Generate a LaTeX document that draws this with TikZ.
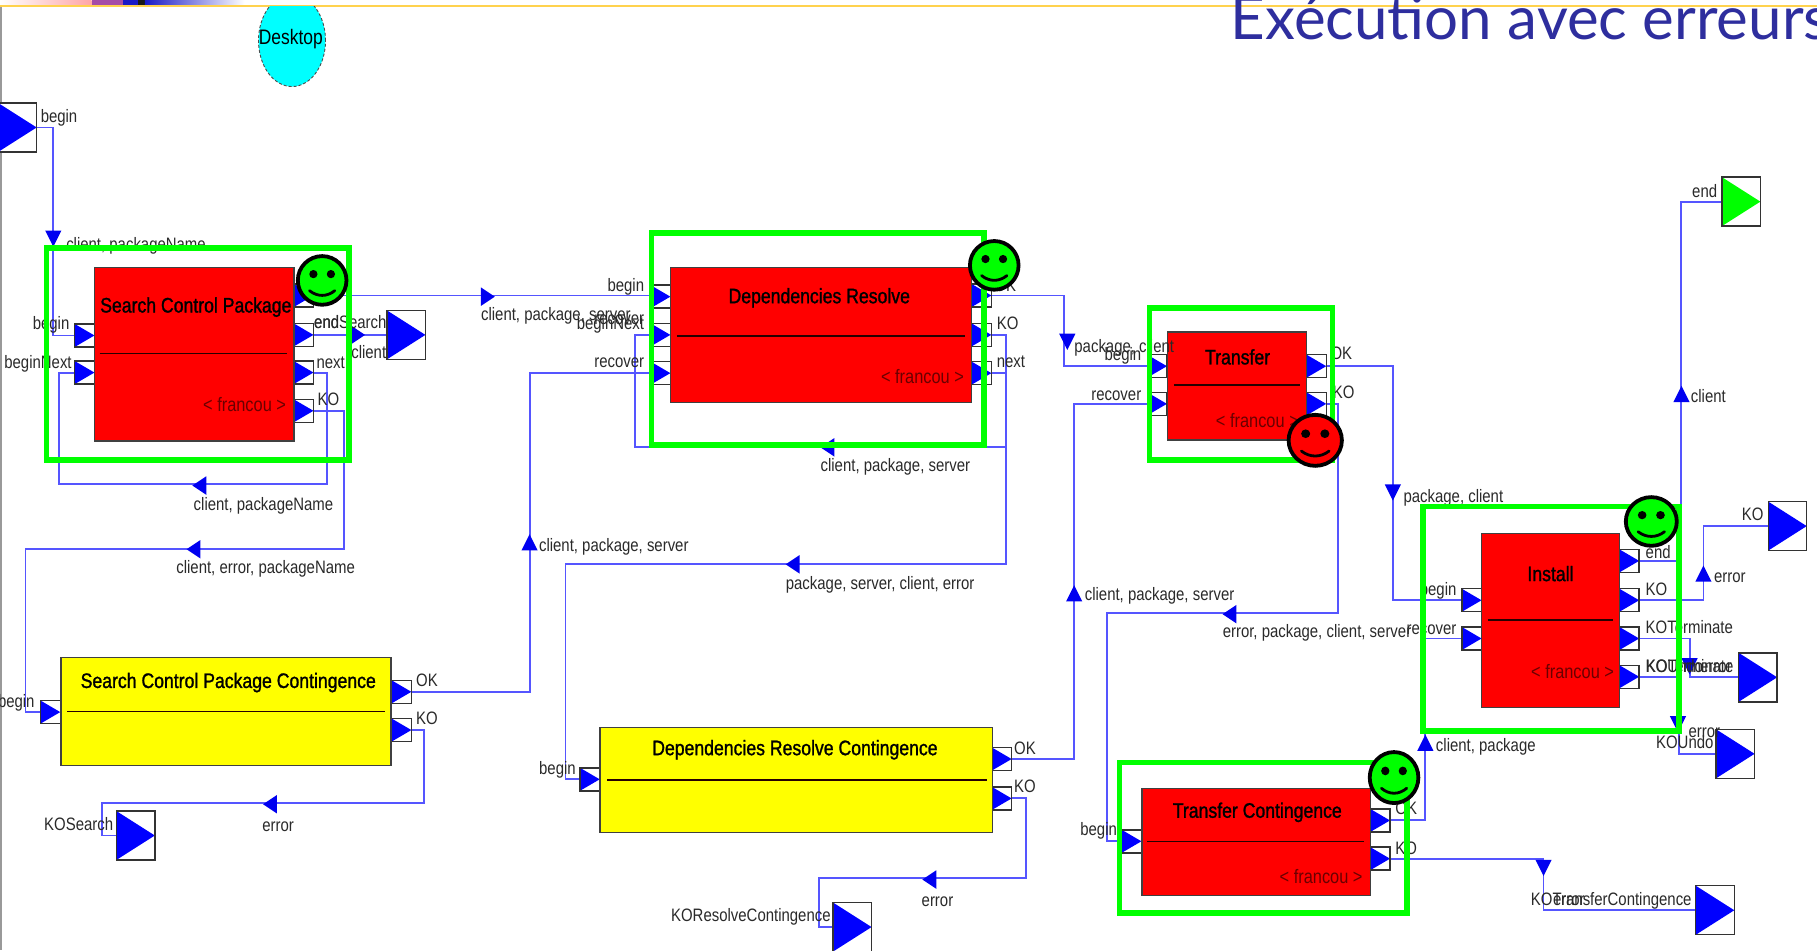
\documentclass[tikz,border=0pt]{standalone}
\usepackage{fontspec}
\setmainfont{Liberation Sans}
\newfontfamily\narrowf[FakeStretch=0.83]{Liberation Sans}
\newfontfamily\narrowo[FakeStretch=0.84]{Liberation Sans}
\newfontfamily\narrowb[FakeStretch=0.84,FakeBold=1.2]{Liberation Sans}
\newfontfamily\headf{Lato}
\usetikzlibrary{shapes.geometric}
\definecolor{wire}{HTML}{5555FF}
\definecolor{mark}{HTML}{0000F0}
\definecolor{frame}{HTML}{00FF00}
\definecolor{bar}{HTML}{FFD24D}
\definecolor{headblue}{HTML}{2E2E9E}
\definecolor{labelgrey}{HTML}{2A2A2A}
\definecolor{pureblue}{HTML}{0000FF}
\definecolor{purered}{HTML}{FF0000}
\definecolor{pureyellow}{HTML}{FFFF00}
\definecolor{purecyan}{HTML}{00FFFF}
\definecolor{ownertext}{HTML}{6A0000}
\tikzset{
  x=1.1587pt,y=-1.1587pt,
  wireline/.style={draw=wire,line width=1.9pt},
  tip/.style={fill=mark,draw=none},
  lbl/.style={font=\narrowf\fontsize{18}{18}\selectfont,text=labelgrey,inner sep=0pt,yshift=-3.5pt},
  ttl/.style={font=\narrowb\fontsize{21}{21}\selectfont,text=black,inner sep=0pt,anchor=center},
  own/.style={font=\narrowo\fontsize{19.5}{19.5}\selectfont,text=ownertext,inner sep=0pt,anchor=mid east,yshift=-3.5pt},
  redbox/.style={draw=black!75,line width=1.4pt,fill=purered,inner sep=0pt,anchor=north west},
  yelbox/.style={draw=black!75,line width=1.4pt,fill=pureyellow,inner sep=0pt,anchor=north west},
  sep/.style={draw=black!85!red,line width=1.6pt},
  triport/.style={draw=black!80,line width=1.4pt,fill=white,inner sep=0pt,
     path picture={\fill[#1] (path picture bounding box.north west)--(path picture bounding box.east)--(path picture bounding box.south west)--cycle;}},
  port/.style={triport=pureblue,minimum width=19.7pt,minimum height=23pt},
  bigport/.style={triport=pureblue,minimum width=38.5pt,minimum height=49pt},
  endport/.style={triport=frame,minimum width=38.5pt,minimum height=49pt},
  greenframe/.style={draw=frame,line width=5.5pt},
  face/.style={draw=black,line width=3.8pt},
}
\newcommand{\tipR}[2]{\fill[tip,shift={(#1,#2)}] (-6,-8)--(6,0)--(-6,8)--cycle;}
\newcommand{\tipL}[2]{\fill[tip,shift={(#1,#2)}] (6,-8)--(-6,0)--(6,8)--cycle;}
\newcommand{\tipD}[2]{\fill[tip,shift={(#1,#2)}] (-7,-7)--(7,-7)--(0,7)--cycle;}
\newcommand{\tipU}[2]{\fill[tip,shift={(#1,#2)}] (-7,7)--(7,7)--(0,-7)--cycle;}
\newcommand{\smiley}[5]{\begin{scope}[shift={(#1,#2)}]
  \filldraw[face,fill=#5] (0,0) ellipse [x radius=#3,y radius=#4];
  \fill (-0.36*#3,-0.26*#4) ellipse [x radius=0.17*#3,y radius=0.17*#4];
  \fill (0.36*#3,-0.26*#4) ellipse [x radius=0.17*#3,y radius=0.17*#4];
  \draw[line width=2.8pt,line cap=round] (-0.52*#3,0.42*#4) .. controls (-0.2*#3,0.68*#4) and (0.2*#3,0.68*#4) .. (0.52*#3,0.42*#4);
\end{scope}}
\begin{document}
\begin{tikzpicture}
\clip (0,0) rectangle (1568,820);
\fill[white] (0,0) rectangle (1568,820);
% top band
\shade[left color=white,right color=red!35] (0,0) rectangle (79,4.5);
\fill[purple!55!blue!60!pink] (79,0) rectangle (106,4.5);
\fill[blue!75!black!90] (106,0) rectangle (119,4.5);
\fill[black!90] (119,0) rectangle (125,4.5);
\shade[left color=blue!75!black!90,right color=white] (125,0) rectangle (211,4.5);
\draw[bar,line width=1.7pt] (0,5) -- (1568,5);
\draw[black!40,line width=1.6pt] (1,6) -- (1,820);
% Desktop
\begin{scope}
\clip (0,6) rectangle (400,100);
\node[ellipse,draw=black!70,densely dashed,line width=0.9pt,fill=purecyan,minimum width=67pt,minimum height=92pt,inner sep=0pt] (desktop) at (252,35) {};
\end{scope}
\node[lbl,text=black,yshift=3.5pt,font=\narrowf\fontsize{21}{21}\selectfont] (desktoplabel) at (251,34) {Desktop};
% ports and boxes
\node[bigport] (inbegin) at (15,110) {};
\node[endport] (outend) at (1502.5,174) {};
\node[bigport] (outsearch) at (350.5,289) {};
\node[bigport] (outko) at (1542.5,454) {};
\node[bigport] (outterm) at (1517,584.5) {};
\node[bigport] (outundo) at (1497.5,650.5) {};
\node[bigport] (outkosearch) at (117,721) {};
\node[bigport] (outkores) at (735.5,800) {};
\node[bigport] (outkotrans) at (1480,785.5) {};

\node[port] (scpbegin) at (73,289.5) {};
\node[port] (scpnxt) at (73,321.5) {};
\node[port] (scpok) at (262,255) {};
\node[port] (scpend) at (262,289) {};
\node[port] (scpnext) at (262,321.5) {};
\node[port] (scpko) at (262,354.5) {};

\node[port] (drbegin) at (570,256) {};
\node[port] (drnxt) at (570,289) {};
\node[port] (drrec) at (570,322) {};
\node[port] (drok) at (847,255) {};
\node[port] (drko) at (847,289) {};
\node[port] (drnext) at (847,322) {};

\node[port] (trbegin) at (998.5,316) {};
\node[port] (trrec) at (998.5,348.5) {};
\node[port] (trok) at (1136,316) {};
\node[port] (trko) at (1136,348.5) {};

\node[port] (inbegina) at (1270,518) {};
\node[port] (inrec) at (1270,551) {};
\node[port] (inend) at (1406,484) {};
\node[port] (inko) at (1406,518) {};
\node[port] (interm) at (1406,551) {};
\node[port] (inundo) at (1406,584) {};

\node[port] (scbegin) at (43.5,614.5) {};
\node[port] (scok) at (346.5,597) {};
\node[port] (scko) at (346.5,630) {};

\node[port] (dcbegin) at (509,672.5) {};
\node[port] (dcok) at (864.5,655) {};
\node[port] (dcko) at (864.5,689) {};

\node[port] (tcbegin) at (976.5,726) {};
\node[port] (tcok) at (1191,708) {};
\node[port] (tcko) at (1191,741) {};

% connectors
\draw[wireline] (inbegin.east) -- (46,110) -- (46,289.5) -- (scpbegin.west);
\draw[wireline] (scpok.east) -- (drbegin.west |- scpok.east) -- (drbegin.west);
\draw[wireline] (scpend.east) -- (outsearch.west);
\draw[wireline] (scpnext.east) -- (282,321.5) -- (282,418) -- (51,418) -- (51,321.5) -- (scpnxt.west);
\draw[wireline] (scpko.east) -- (297,354.5) -- (297,474) -- (22,474) -- (22,614.5) -- (scbegin.west);
\draw[wireline] (scok.east) -- (457,597) -- (457,322) -- (drrec.west);
\draw[wireline] (scko.east) -- (366,630) -- (366,693) -- (88,693) -- (88,721) -- (outkosearch.west);
\draw[wireline] (drok.east) -- (918,255) -- (918,316) -- (trbegin.west);
\draw[wireline] (drko.east) -- (868,289) -- (868,487) -- (488,487) -- (488,672.5) -- (dcbegin.west);
\draw[wireline] (drnext.east) -- (868,322) -- (868,386) -- (548,386) -- (548,289) -- (drnxt.west);
\draw[wireline] (dcok.east) -- (927,655) -- (927,348.5) -- (trrec.west);
\draw[wireline] (dcko.east) -- (885,689) -- (885,758) -- (707,758) -- (707,800) -- (outkores.west);
\draw[wireline] (trok.east) -- (1202,316) -- (1202,518) -- (inbegina.west);
\draw[wireline] (trko.east) -- (1155,348.5) -- (1155,529) -- (955,529) -- (955,726) -- (tcbegin.west);
\draw[wireline] (tcok.east) -- (1230,708) -- (1230,551) -- (inrec.west);
\draw[wireline] (tcko.east) -- (1332,741) -- (1332,785.5) -- (outkotrans.west);
\draw[wireline] (inend.east) -- (1451,484) -- (1451,174) -- (outend.west);
\draw[wireline] (inko.east) -- (1470,518) -- (1470,454) -- (outko.west);
\draw[wireline] (interm.east) -- (1458,551) -- (1458,584.5) -- (outterm.west);
\draw[wireline] (inundo.east) -- (1449,584) -- (1449,650.5) -- (outundo.west);
\tipD{46}{206} \tipR{421}{256} \tipR{309}{289} \tipL{172}{419} \tipL{167}{474}
\tipU{457}{468} \tipL{233}{694} \tipL{714}{386} \tipL{684}{487} \tipD{921}{295}
\tipU{927}{512} \tipL{802}{759} \tipD{1202}{425} \tipL{1061}{530} \tipU{1230}{641}
\tipD{1332}{749} \tipU{1451}{340} \tipU{1470}{495} \tipD{1458}{575} \tipD{1448}{625}
% boxes
\node[redbox,minimum width=199.3pt,minimum height=173.8pt] (scp) at (81,230) {};
\draw[sep] (86,305) -- (248,305);
\node[ttl] (scpt) at (169,265) {Search Control Package};
\node[own] (scpo) at (247,350) {< francou >};

\node[redbox,minimum width=301pt,minimum height=135.5pt] (dr) at (578,230) {};
\draw[sep] (584,290) -- (833,290);
\node[ttl] (drt) at (707,257) {Dependencies Resolve};
\node[own] (dro) at (832,326) {< francou >};

\node[redbox,minimum width=139pt,minimum height=107.8pt] (tr) at (1007,286) {};
\draw[sep] (1013,332) -- (1122,332);
\node[ttl] (trt) at (1068,308) {Transfer};
\node[own] (tro) at (1121,364) {< francou >};

\node[redbox,minimum width=138pt,minimum height=173.8pt] (ins) at (1278,460) {};
\draw[sep] (1284,535) -- (1392,535);
\node[ttl] (inst) at (1338,495) {Install};
\node[own] (inso) at (1393,580) {< francou >};

\node[yelbox,minimum width=330pt,minimum height=107.8pt] (sc) at (52,567) {};
\draw[sep] (58,614) -- (332,614);
\node[ttl] (sct) at (197,589) {Search Control Package Contingence};

\node[yelbox,minimum width=392.8pt,minimum height=105.4pt] (dc) at (517,627) {};
\draw[sep] (524,673) -- (852,673);
\node[ttl] (dct) at (686,647) {Dependencies Resolve Contingence};

\node[redbox,minimum width=228.3pt,minimum height=106.6pt] (tc) at (985,680) {};
\draw[sep] (990,726) -- (1177,726);
\node[ttl] (tct) at (1085,701) {Transfer Contingence};
\node[own] (tco) at (1176,757) {< francou >};

% labels
\begin{scope}[every node/.append style={lbl}]
\node[anchor=mid west] (a1) at (35,100) {begin};
\node[anchor=mid west] (a2) at (57,211) {client, packageName};
\node[anchor=mid east] (a3) at (60,279) {begin};
\node[anchor=mid east] (a4) at (62,313) {beginNext};
\node[anchor=mid west] (a5) at (271,278) {endSearch};
\node[anchor=mid west] (a5b) at (271,278) {end};
\node[anchor=mid west] (a6) at (303,304) {client};
\node[anchor=mid west] (a7) at (273,313) {next};
\node[anchor=mid west] (a8) at (274,345) {KO};
\node[anchor=mid west] (a9) at (415,271) {client, package, server};
\node[anchor=mid west] (a10) at (167,435) {client, packageName};
\node[anchor=mid west] (a11) at (152,490) {client, error, packageName};
\node[anchor=mid east] (a12) at (30,605) {begin};
\node[anchor=mid west] (a13) at (359,587) {OK};
\node[anchor=mid west] (a14) at (359,620) {KO};
\node[anchor=mid west] (a15) at (465,471) {client, package, server};
\node[anchor=center] (a16) at (240,710) {error};
\node[anchor=mid west] (a17) at (38,711) {KOSearch};
\node[anchor=mid east] (a18) at (556,246) {begin};
\node[anchor=mid east] (a19) at (556,279) {beginNext};
\node[anchor=mid east] (a19b) at (556,275) {recover};
\node[anchor=mid east] (a20) at (556,312) {recover};
\node[anchor=mid west] (a21) at (858,246) {OK};
\node[anchor=mid west] (a22) at (860,279) {KO};
\node[anchor=mid west] (a23) at (860,312) {next};
\node[anchor=mid west] (a24) at (708,402) {client, package, server};
\node[anchor=mid west] (a25) at (678,503) {package, server, client, error};
\node[anchor=mid east] (a26) at (497,663) {begin};
\node[anchor=mid west] (a27) at (875,646) {OK};
\node[anchor=mid west] (a28) at (875,679) {KO};
\node[anchor=center] (a29) at (809,775) {error};
\node[anchor=mid west] (a30) at (579,790) {KOResolveContingence};
\node[anchor=mid west] (a31) at (927,299) {package, client};
\node[anchor=mid east] (a32) at (985,306) {begin};
\node[anchor=mid east] (a33) at (985,340) {recover};
\node[anchor=mid west] (a34) at (1148,305) {OK};
\node[anchor=mid west] (a35) at (1150,339) {KO};
\node[anchor=mid west] (a36) at (936,513) {client, package, server};
\node[anchor=mid west] (a37) at (1055,545) {error, package, client, server};
\node[anchor=mid east] (a38) at (964,716) {begin};
\node[anchor=mid west] (a39) at (1204,698) {OK};
\node[anchor=mid west] (a40) at (1204,732) {KO};
\node[anchor=mid west] (a41) at (1211,428) {package, client};
\node[anchor=mid east] (a42) at (1257,509) {begin};
\node[anchor=mid east] (a43) at (1257,542) {recover};
\node[anchor=mid west] (a44) at (1420,477) {end};
\node[anchor=mid west] (a45) at (1420,509) {KO};
\node[anchor=mid west] (a46) at (1420,541) {KOTerminate};
\node[anchor=mid west] (a47) at (1420,575) {KOUndo};
\node[anchor=mid east] (a48) at (1496,575) {KOTerminate};
\node[anchor=mid west] (a49) at (1467,575) {error};
\node[anchor=mid west] (a50) at (1459,342) {client};
\node[anchor=mid east] (a51) at (1482,165) {end};
\node[anchor=mid west] (a52) at (1479,497) {error};
\node[anchor=mid east] (a53) at (1522,444) {KO};
\node[anchor=mid west] (a54) at (1429,641) {KOUndo};
\node[anchor=mid west] (a55) at (1457,631) {error};
\node[anchor=mid west] (a56) at (1239,643) {client, package};
\node[anchor=mid west] (a57) at (1321,776) {KOTransferContingence};
\node[anchor=mid west] (a58) at (1340,776) {error};
\end{scope}
% green frames
\draw[greenframe] (40,214) rectangle (301,397);
\draw[greenframe] (562,201) rectangle (849,384);
\draw[greenframe] (992,266) rectangle (1150,397);
\draw[greenframe] (1228,437) rectangle (1449,631);
\draw[greenframe] (966,658) rectangle (1214,788);
% faces
\smiley{278}{242}{21}{21}{frame}
\smiley{858}{229}{21}{21}{frame}
\smiley{1135}{380}{23}{22}{purered}
\smiley{1425}{450}{22}{21}{frame}
\smiley{1203}{671}{21}{22}{frame}
% heading
\node[font=\headf\fontsize{60}{60}\selectfont,text=headblue,inner sep=0pt,anchor=base west] (heading) at (1062,34) {Exécution avec erreurs};
\end{tikzpicture}
\end{document}
